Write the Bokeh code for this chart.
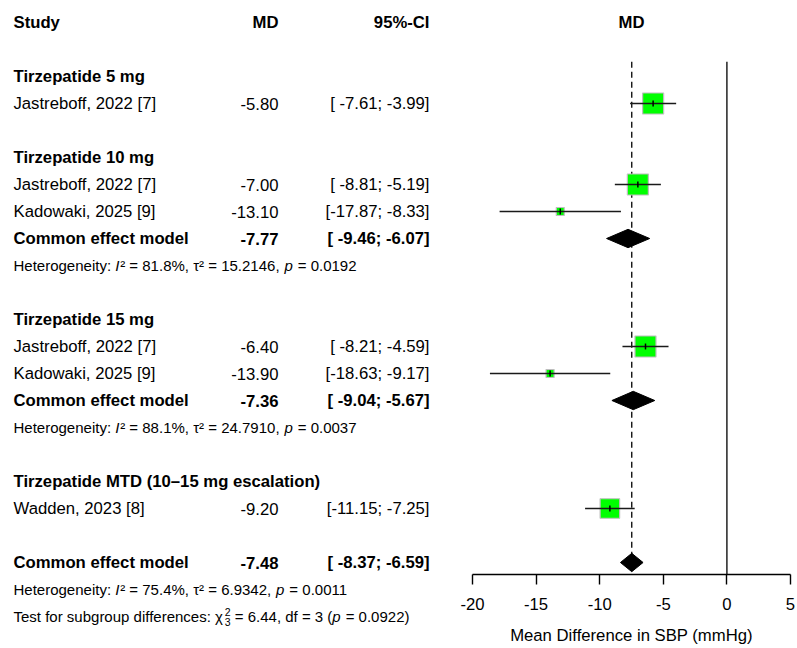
import numpy as np
from bokeh.plotting import figure
from bokeh.layouts import row
from bokeh.models import ColumnDataSource, Range1d, FixedTicker
from bokeh.core.properties import value
from bokeh.embed import file_html
from bokeh.resources import INLINE

# ---------------- data ----------------
col_headers = ["Study", "MD", "95%-CI"]
forest_header = "MD"
group_names = ["Tirzepatide 5 mg", "Tirzepatide 10 mg", "Tirzepatide 15 mg",
               "Tirzepatide MTD (10–15 mg escalation)"]
study_names = ["Jastreboff, 2022 [7]", "Jastreboff, 2022 [7]", "Kadowaki, 2025 [9]",
               "Jastreboff, 2022 [7]", "Kadowaki, 2025 [9]", "Wadden, 2023 [8]"]
study_group = [0, 1, 1, 2, 2, 3]
study_md = [-5.80, -7.00, -13.10, -6.40, -13.90, -9.20]
study_lo = [-7.61, -8.81, -17.87, -8.21, -18.63, -11.15]
study_hi = [-3.99, -5.19, -8.33, -4.59, -9.17, -7.25]

pooled_group = [1, 2]
pooled_md = [-7.77, -7.36]
pooled_lo = [-9.46, -9.04]
pooled_hi = [-6.07, -5.67]
het_i2 = [81.8, 88.1]
het_tau2 = [15.2146, 24.7910]
het_p = [0.0192, 0.0037]

overall_md = -7.48
overall_lo = -8.37
overall_hi = -6.59
overall_i2 = 75.4
overall_tau2 = 6.9342
overall_p = 0.0011
subgroup_chi2 = 6.44
subgroup_df = 3
subgroup_p = 0.0922

x_ticks = [-20, -15, -10, -5, 0, 5]
x_label = "Mean Difference in SBP (mmHg)"
model_label = "Common effect model"

# ---------------- layout constants ----------------
FONT = "Liberation Sans"
FS_PX = 16.7
FS_SMALL_PX = 15.0
FS_SCRIPT_PX = 10.5
FS = "%.1fpx" % FS_PX
W, H = 797, 648
LEFT_W = 455
RIGHT_W = W - LEFT_W
ROW0 = 22.0      # canvas y of row 0
ROW_PX = 27.0    # pixels per row
BOTTOM = 74      # axis area of forest panel
r_top = -ROW0 / ROW_PX
r_bot = (H - BOTTOM - ROW0) / ROW_PX

# Arial / Liberation Sans advance widths (per 1000 em)
AW = {' ': 278, '%': 889, ',': 278, '.': 278, ':': 278, '=': 584, '(': 333, ')': 333,
      'H': 722, 'T': 611, 'I': 278, 'a': 556, 'b': 556, 'c': 500, 'd': 556, 'e': 556,
      'f': 278, 'g': 556, 'i': 222, 'n': 556, 'o': 556, 'p': 556, 'r': 333, 's': 500,
      't': 278, 'u': 556, 'y': 500, '\u00b2': 333, '\u03c4': 440, '\u03c7': 490}
for dch in "0123456789":
    AW[dch] = 556

def tw(s, px):
    return sum(AW.get(c, 556) for c in s) * px / 1000.0

# ---------------- row assignment ----------------
study_row, pooled_row, het_row, title_row = [], [], [], []
r = 1
for g in range(len(group_names)):
    r += 1
    title_row.append(r)
    r += 1
    members = [i for i, sg in enumerate(study_group) if sg == g]
    for i in members:
        study_row.append(r)
        r += 1
    if len(members) > 1:
        pooled_row.append(r)
        het_row.append(r + 1)
        r += 2
overall_row = r + 1
overall_het_row = r + 2
test_row = r + 3

def ci_text(lo, hi):
    return "[{:6.2f}; {:5.2f}]".format(lo, hi)

# ---------------- left (text) panel ----------------
left = figure(width=LEFT_W, height=H, x_range=Range1d(0, LEFT_W),
              y_range=Range1d(r_bot, r_top), toolbar_location=None,
              output_backend="svg", x_axis_location=None, y_axis_location=None,
              min_border=0, min_border_bottom=BOTTOM, outline_line_color=None)
left.grid.visible = False

X_STUDY, X_MD, X_CI = 13, 278, 429

def txt(p, x, y, t, align="left", style="normal", size=FS, yoff=0):
    src = ColumnDataSource(dict(x=x, y=y, t=t))
    rr = p.text(x="x", y="y", text="t", source=src, text_align=align,
                text_baseline="middle", text_font=value(FONT),
                text_font_size=value(size), y_offset=yoff,
                text_font_style=style, text_color="black")
    rr.level = "overlay"
    return rr

# headers
txt(left, [X_STUDY], [0], [col_headers[0]], "left", "bold")
txt(left, [X_MD], [0], [col_headers[1]], "right", "bold")
txt(left, [X_CI], [0], [col_headers[2]], "right", "bold")
# group titles
txt(left, [X_STUDY] * len(group_names), title_row, group_names, "left", "bold")
# studies
txt(left, [X_STUDY] * len(study_names), study_row, study_names, "left")
txt(left, [X_MD] * len(study_md), study_row, ["{:.2f}".format(v) for v in study_md], "right")
txt(left, [X_CI] * len(study_md), study_row,
    [ci_text(a, b) for a, b in zip(study_lo, study_hi)], "right")
# pooled
prow = pooled_row + [overall_row]
pmd = pooled_md + [overall_md]
plo = pooled_lo + [overall_lo]
phi = pooled_hi + [overall_hi]
txt(left, [X_STUDY] * len(prow), prow, [model_label] * len(prow), "left", "bold")
txt(left, [X_MD] * len(prow), prow, ["{:.2f}".format(v) for v in pmd], "right", "bold")
txt(left, [X_CI] * len(prow), prow, [ci_text(a, b) for a, b in zip(plo, phi)], "right", "bold")

# heterogeneity statistics, built from styled pieces
segs = {"normal": ([], [], []), "italic": ([], [], [])}
SFS = FS_SMALL_PX

def put(style, x, y, s, px=SFS):
    """place a piece (leading blanks become an x shift); return its advance"""
    stripped = s.lstrip(" ")
    lead = len(s) - len(stripped)
    segs[style][0].append(x + tw(" " * lead, px))
    segs[style][1].append(y)
    segs[style][2].append(stripped)
    return tw(s, px) + (0.8 if style == "italic" else 0.0)

hrow = het_row + [overall_het_row]
for yy, i2, t2, pv in zip(hrow, het_i2 + [overall_i2], het_tau2 + [overall_tau2],
                          het_p + [overall_p]):
    pieces = [("normal", "Heterogeneity: "), ("italic", "I"),
              ("normal", "\u00b2 = {:.1f}%, \u03c4\u00b2 = {:.4f}, ".format(i2, t2)),
              ("italic", "p"), ("normal", " = {:.4f}".format(pv))]
    xx = X_STUDY
    for st, s in pieces:
        xx += put(st, xx, yy, s)

# subgroup test line with stacked chi-square scripts
xx = X_STUDY
xx += put("normal", xx, test_row, "Test for subgroup differences: \u03c7") + 0.5
xs = xx
xx += tw("2", FS_SCRIPT_PX)
xx += put("normal", xx, test_row, " = {:.2f}, df = {} (".format(subgroup_chi2, subgroup_df))
xx += put("italic", xx, test_row, "p")
xx += put("normal", xx, test_row, " = {:.4f})".format(subgroup_p))

for st, (sx, sy, st_t) in segs.items():
    txt(left, sx, sy, st_t, "left", st, "%.1fpx" % SFS)
txt(left, [xs], [test_row], ["2"], "left", "normal", "%.1fpx" % FS_SCRIPT_PX, yoff=-5)
txt(left, [xs], [test_row], [str(subgroup_df)], "left", "normal", "%.1fpx" % FS_SCRIPT_PX, yoff=5)

# ---------------- right (forest) panel ----------------
right = figure(width=RIGHT_W, height=H, x_range=Range1d(x_ticks[0], x_ticks[-1]),
               y_range=Range1d(r_bot, r_top), toolbar_location=None,
               output_backend="svg", y_axis_location=None,
               min_border_left=17, min_border_right=7, min_border_top=0,
               min_border_bottom=BOTTOM, outline_line_color=None)
right.grid.visible = False

txt(right, [(x_ticks[0] + x_ticks[-1]) / 2], [0], [forest_header], "center", "bold")

line_top = title_row[0] - 0.55
# reference lines
right.segment(x0=[0], y0=[line_top], x1=[0], y1=[r_bot],
              line_color="#222222", line_width=1.5)
right.segment(x0=[overall_md], y0=[line_top], x1=[overall_md], y1=[overall_row],
              line_color="black", line_width=1.3, line_dash="6 4")

# study CIs
lo = np.array(study_lo); hi = np.array(study_hi); md = np.array(study_md)
se = (hi - lo) / (2 * 1.96)
w = 1 / se ** 2
sizes = 21 * np.sqrt(w / w.max())
ssrc = ColumnDataSource(dict(md=md, lo=lo, hi=hi, y=study_row, size=sizes,
                             ya=np.array(study_row) - 0.11, yb=np.array(study_row) + 0.11))
right.scatter(x="md", y="y", size="size", marker="square", source=ssrc,
              fill_color="#00FF00", line_color="#BEBEBE", line_width=1.2)
right.segment(x0="lo", y0="y", x1="hi", y1="y", source=ssrc,
              line_color="#1a1a1a", line_width=1.3)
right.segment(x0="md", y0="ya", x1="md", y1="yb", source=ssrc,
              line_color="black", line_width=1.5)

# diamonds
HD = 0.34
dxs = [[a, m, b, m] for a, m, b in zip(plo, pmd, phi)]
dys = [[y, y - HD, y, y + HD] for y in prow]
right.patches(xs=dxs, ys=dys, fill_color="black", line_color="black", line_width=1)

ax = right.xaxis[0]
ax.ticker = FixedTicker(ticks=x_ticks)
ax.major_label_overrides = {t: str(t) for t in x_ticks}
ax.axis_label = x_label
ax.axis_label_text_font = FONT
ax.axis_label_text_font_size = FS
ax.axis_label_text_font_style = "normal"
ax.axis_label_standoff = 13
ax.major_label_text_font = FONT
ax.major_label_text_font_size = FS
ax.major_label_standoff = 13
ax.major_tick_out = 10
ax.major_tick_in = 0
ax.minor_tick_out = 0
ax.minor_tick_in = 0
ax.axis_line_width = 1.4
ax.major_tick_line_width = 1.4
ax.axis_line_color = "black"
ax.major_tick_line_color = "black"
ax.major_label_text_color = "black"
ax.axis_label_text_color = "black"

layout = row(left, right)
open("out.html", "w").write(file_html(layout, INLINE))
